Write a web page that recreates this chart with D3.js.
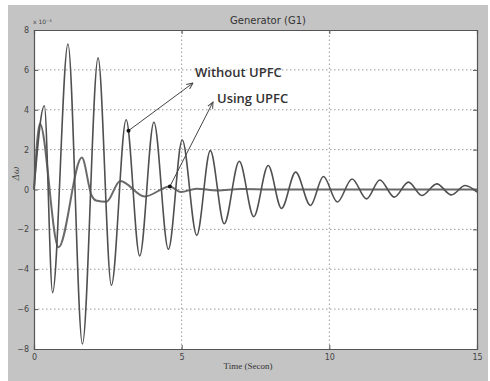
<!DOCTYPE html>
<html>
<head>
<meta charset="utf-8">
<script src="https://cdn.jsdelivr.net/npm/d3@7"></script>
<style>
  html, body { margin: 0; padding: 0; background: #ffffff; }
  svg { display: block; }
</style>
</head>
<body>
<script>
// ---- data ----
const withoutT = [0, 0.35, 0.63, 1.15, 1.64, 2.17, 2.62, 3.12, 3.58, 4.06, 4.55, 5.02, 5.51, 5.97, 6.44, 6.95, 7.44, 7.93, 8.38, 8.86, 9.36, 9.8, 10.27, 10.77, 11.26, 11.71, 12.2, 12.68, 13.13, 13.64, 14.13, 14.6, 15];
const withoutV = [0, 4.2, -5.17, 7.3, -7.75, 6.6, -4.8, 3.5, -3.33, 3.37, -3.0, 2.48, -2.3, 1.95, -1.72, 1.42, -1.36, 1.2, -0.95, 0.87, -0.8, 0.65, -0.63, 0.53, -0.47, 0.48, -0.38, 0.37, -0.3, 0.28, -0.27, 0.2, -0.13];
const usingT = [0, 0.2, 0.83, 1.62, 1.95, 2.1, 2.45, 2.92, 3.75, 4.6, 4.97, 5.5, 6.2, 7.0, 8.0, 15];
const usingV = [0, 3.3, -2.9, 1.6, -0.3, -0.55, -0.62, 0.43, -0.35, 0.15, -0.13, 0.04, -0.05, 0.02, 0, 0];
const xTicks = [0, 5, 10, 15];
const yTicks = [-8, -6, -4, -2, 0, 2, 4, 6, 8];
const titleText = "Generator (G1)";
const xLabel = "Time (Secon)";
const yLabel = "\u0394\u03c9";
const expLabel = "x 10\u207B\u00B3";
const annotations = [
  { text: "Without UPFC", t: 3.2, v: 2.95, series: "without" },
  { text: "Using UPFC", t: 4.6, v: 0.15, series: "using" }
];

const W = 490, H = 381;
const margin = { left: 34, right: 13, top: 30, bottom: 32 };
const svg = d3.select("body").append("svg").attr("width", W).attr("height", H);

// defs: arrow marker
const defs = svg.append("defs");
defs.append("marker").attr("id", "arr").attr("viewBox", "0 0 10 10")
  .attr("refX", 9).attr("refY", 5).attr("markerWidth", 7).attr("markerHeight", 7)
  .attr("orient", "auto")
  .append("path").attr("d", "M0,1 L9,5 L0,9").attr("fill", "none")
  .attr("stroke", "#444").attr("stroke-width", 1.4);

// figure panel
svg.append("rect").attr("x", 8).attr("y", 5).attr("width", 480).attr("height", 376).attr("fill", "#c4c4c4");

const x = d3.scaleLinear().domain([0, 15]).range([margin.left, W - margin.right]);
const y = d3.scaleLinear().domain([-8, 8]).range([H - margin.bottom, margin.top]);

// plot area
svg.append("rect").attr("x", x(0)).attr("y", y(8)).attr("width", x(15) - x(0)).attr("height", y(-8) - y(8)).attr("fill", "#ffffff");

// grid
const grid = svg.append("g");
grid.selectAll(".gy").data(yTicks.filter(d => d > -8 && d < 8)).join("line")
  .attr("x1", x(0)).attr("x2", x(15)).attr("y1", d => y(d)).attr("y2", d => y(d))
  .attr("stroke", "#9a9a9a").attr("stroke-width", 1).attr("stroke-dasharray", "1.5,2.5");
grid.selectAll(".gx").data(xTicks.filter(d => d > 0 && d < 15)).join("line")
  .attr("y1", y(-8)).attr("y2", y(8)).attr("x1", d => x(d)).attr("x2", d => x(d))
  .attr("stroke", "#9a9a9a").attr("stroke-width", 1).attr("stroke-dasharray", "1.5,2.5");

// curves
const line = d3.line().x(d => x(d[0])).y(d => y(d[1])).curve(d3.curveMonotoneX);
const usingData = usingT.map((t, i) => [t, usingV[i]]);
const withoutData = withoutT.map((t, i) => [t, withoutV[i]]);
svg.append("path").datum(usingData).attr("d", line).attr("fill", "none")
  .attr("stroke", "#6a6a6a").attr("stroke-width", 2);
svg.append("path").datum(withoutData).attr("d", line).attr("fill", "none")
  .attr("stroke", "#505050").attr("stroke-width", 1.6);

// axes (matlab-like inward ticks, boxed)
const fontTick = "DejaVu Sans, sans-serif";
const xAxis = d3.axisBottom(x).tickValues(xTicks).tickSize(-4).tickPadding(5).tickFormat(d3.format("d"));
const yAxis = d3.axisLeft(y).tickValues(yTicks).tickSize(-4).tickPadding(5).tickFormat(d3.format("d"));
const gx = svg.append("g").attr("transform", `translate(0,${y(-8)})`).call(xAxis);
const gy = svg.append("g").attr("transform", `translate(${x(0)},0)`).call(yAxis);
const gx2 = svg.append("g").attr("transform", `translate(0,${y(8)})`).call(d3.axisTop(x).tickValues(xTicks).tickSize(-4).tickFormat(""));
const gy2 = svg.append("g").attr("transform", `translate(${x(15)},0)`).call(d3.axisRight(y).tickValues(yTicks).tickSize(-4).tickFormat(""));
[gx, gy, gx2, gy2].forEach(g => {
  g.select(".domain").attr("stroke", "#555").attr("stroke-width", 1.2);
  g.selectAll(".tick line").attr("stroke", "#555");
  g.selectAll("text").attr("fill", "#444").attr("font-family", fontTick).attr("font-size", 8);
});

// texts
svg.append("text").attr("x", 268).attr("y", 24).attr("text-anchor", "middle")
  .attr("font-family", "DejaVu Sans, sans-serif").attr("font-size", 10).attr("fill", "#333").text(titleText);
svg.append("text").attr("x", 33).attr("y", 24).attr("font-family", "DejaVu Sans, sans-serif")
  .attr("font-size", 6).attr("fill", "#444").text(expLabel);
svg.append("text").attr("x", 248).attr("y", 369).attr("text-anchor", "middle")
  .attr("font-family", "Liberation Serif, serif").attr("font-size", 9).attr("fill", "#333").text(xLabel);
svg.append("text").attr("transform", `translate(19,${y(0.8)}) rotate(-90)`).attr("text-anchor", "middle")
  .attr("font-family", "DejaVu Serif, serif").attr("font-style", "italic").attr("font-size", 9).attr("fill", "#444").text(yLabel);

// annotations
const labelPos = [{ tx: 195, ty: 77, hx: 193, hy: 83 }, { tx: 217, ty: 103, hx: 213, hy: 102 }];
annotations.forEach((a, i) => {
  const p = labelPos[i];
  const px = x(a.t), py = y(a.v);
  svg.append("line").attr("x1", px).attr("y1", py).attr("x2", p.hx).attr("y2", p.hy)
    .attr("stroke", "#444").attr("stroke-width", 1).attr("marker-end", "url(#arr)");
  svg.append("circle").attr("cx", px).attr("cy", py).attr("r", 2).attr("fill", "#111");
  svg.append("text").attr("x", p.tx).attr("y", p.ty)
    .attr("font-family", "Open Sans, sans-serif").attr("font-weight", 600).attr("font-size", 13)
    .attr("fill", "#333").text(a.text);
});
</script>
</body>
</html>
